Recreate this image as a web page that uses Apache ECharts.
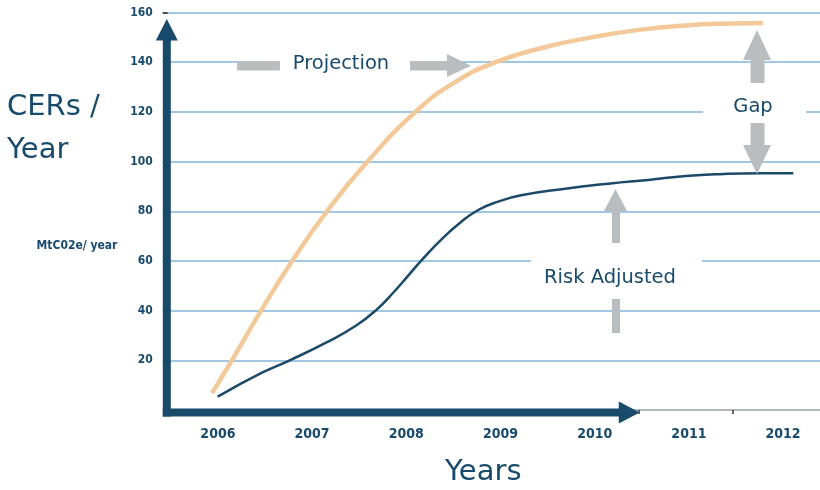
<!DOCTYPE html>
<html>
<head>
<meta charset="utf-8">
<script src="https://cdn.jsdelivr.net/npm/echarts@6/dist/echarts.min.js"></script>
<style>
  html, body { margin: 0; padding: 0; background: #fff; overflow: hidden; width: 820px; height: 490px; }
  /* the last year band runs a few pixels past the right edge of the page */
  #chart { width: 828px; height: 490px; }
</style>
</head>
<body>
<div id="chart"></div>
<script>
// Year categories along the bottom axis
const years = ['2006', '2007', '2008', '2009', '2010', '2011', '2012'];

// Projected CER volume (MtCO2e / year), sampled along the time axis
const projTime  = [2005.97, 2006.18, 2006.49, 2006.82, 2007.19, 2007.62, 2008.13, 2008.55, 2009.00, 2009.50, 2010.00, 2010.50, 2011.00, 2011.50, 2011.82];
const projValue = [6.8, 20.0, 40.0, 60.0, 80.0, 100.0, 120.0, 132.0, 140.3, 146.0, 150.0, 153.0, 154.8, 155.6, 155.8];

// Risk-adjusted CER volume
const riskTime  = [2006.03, 2006.50, 2006.80, 2007.19, 2007.50, 2007.72, 2007.90, 2008.05, 2008.20, 2008.40, 2008.60, 2008.80, 2009.00, 2009.25, 2009.70, 2010.20, 2010.60, 2011.00, 2011.40, 2011.80, 2012.14];
const riskValue = [5.4, 15.0, 20.1, 27.3, 34.0, 40.5, 47.5, 54.0, 60.5, 68.5, 75.3, 80.6, 83.8, 86.4, 89.0, 91.2, 92.6, 94.2, 95.0, 95.3, 95.3];

const navy = '#184a6c';
const lineNavy = '#1b4968';
const peach = '#f3c99a';
const gridBlue = '#82b5d8';
const grey = '#babdbf';
const narrow = '"Liberation Sans Narrow", "DejaVu Sans Condensed", "Arial Narrow", sans-serif';
const body = '"DejaVu Sans", Verdana, sans-serif';

const zip = (a, b) => a.map((t, i) => [t, b[i]]);

const chart = echarts.init(document.getElementById('chart'), null, { renderer: 'canvas' });

chart.setOption({
  animation: false,
  backgroundColor: '#fff',
  grid: { left: 167.8, right: 0.8, top: 12.5, bottom: 80, containLabel: false },
  xAxis: [
    {
      type: 'category',
      data: years,
      boundaryGap: true,
      axisLine: { show: true, lineStyle: { color: '#b3b6b8', width: 1.5 } },
      axisTick: { show: true, length: 4, lineStyle: { color: '#333', width: 1.5 } },
      axisLabel: {
        color: navy, fontFamily: narrow, fontWeight: 'bold', fontSize: 14, margin: 17,
        padding: [0, 0, 0, 6]
      },
      splitLine: { show: false }
    },
    {
      type: 'value',
      min: 2005.5,
      max: 2012.5,
      show: false
    }
  ],
  yAxis: {
    type: 'value',
    min: 0,
    max: 160,
    interval: 20,
    axisLine: { show: false },
    axisTick: { show: true, length: 5, lineStyle: { color: '#111', width: 1.5 } },
    axisLabel: {
      color: navy, fontFamily: narrow, fontWeight: 'bold', fontSize: 12, margin: 15,
      formatter: v => (v === 0 ? '' : String(v))
    },
    splitLine: { show: true, lineStyle: { color: gridBlue, width: 1.5 } }
  },
  series: [
    {
      name: 'Projection',
      type: 'line',
      xAxisIndex: 1,
      data: zip(projTime, projValue),
      smooth: true,
      showSymbol: false,
      symbol: 'none',
      lineStyle: { color: peach, width: 4.5, cap: 'butt' },
      z: 3
    },
    {
      name: 'Risk Adjusted',
      type: 'line',
      xAxisIndex: 1,
      data: zip(riskTime, riskValue),
      smooth: true,
      showSymbol: false,
      symbol: 'none',
      lineStyle: { color: lineNavy, width: 2.5 },
      z: 3
    }
  ]
});

// Decorations: axis arrows, call-out labels and their grey arrows
const toPx = (t, v) => chart.convertToPixel({ xAxisIndex: 1, yAxisIndex: 0 }, [t, v]);
const originPx = toPx(2005.5, 0);
const topPx = toPx(2005.5, 160);
const axX = originPx[0] - 1;          // y-axis bar centre
const axY = originPx[1] + 2.5;        // x-axis bar centre
const xTip = toPx(2010.51, 0)[0];
const yTop = topPx[1];

const box = (x, y, w, h) => ({ type: 'rect', z: 1, shape: { x, y, width: w, height: h }, style: { fill: '#fff' } });
const bar = (x, y, w, h, fill, z) => ({ type: 'rect', z, shape: { x, y, width: w, height: h }, style: { fill } });
const tri = (pts, fill, z) => ({ type: 'polygon', z, shape: { points: pts }, style: { fill } });
const label = (text, x, y, size) => ({
  type: 'text', z: 6, x, y,
  style: { text, fill: navy, font: `${size}px ${body}`, align: 'center', verticalAlign: 'middle' }
});

chart.setOption({
  graphic: [
    // white panels behind call-outs
    box(237, 50, 223, 28),
    box(703, 90, 103, 35),
    box(531, 250, 171, 45),

    // Projection call-out
    bar(237, 61, 43, 9.5, grey, 5),
    bar(410, 61, 39, 9.5, grey, 5),
    tri([[447, 54], [471, 65.7], [447, 77]], grey, 5),
    label('Projection', 341, 64, 19.5),

    // Gap call-out
    tri([[743, 60], [757, 30], [771, 60]], grey, 5),
    bar(750.5, 59, 14, 24, grey, 5),
    label('Gap', 753, 107, 19.5),
    bar(750.5, 123, 14, 23, grey, 5),
    tri([[743, 145], [757, 174], [771, 145]], grey, 5),

    // Risk Adjusted call-out
    tri([[604, 211], [615.5, 189], [627, 211]], grey, 5),
    bar(612, 210, 8, 33, grey, 5),
    label('Risk Adjusted', 610, 278, 19.5),
    bar(612, 299, 8, 34, grey, 5),

    // y-axis arrow
    bar(axX - 4, yTop + 27, 8, axY + 4 - (yTop + 27), navy, 7),
    tri([[axX - 11, yTop + 28], [axX, yTop + 6.5], [axX + 11, yTop + 28]], navy, 7),

    // x-axis arrow
    bar(axX - 4, axY - 4, xTip - 20 - (axX - 4), 8, navy, 7),
    tri([[xTip - 21, axY - 11], [xTip, axY], [xTip - 21, axY + 11]], navy, 7),

    // axis titles
    { type: 'text', z: 6, x: 7, y: 107, style: { text: 'CERs /', fill: navy, font: `29px ${body}`, verticalAlign: 'middle' } },
    { type: 'text', z: 6, x: 7, y: 150, style: { text: 'Year', fill: navy, font: `29px ${body}`, verticalAlign: 'middle' } },
    { type: 'text', z: 6, x: 445, y: 472, style: { text: 'Years', fill: navy, font: `29px ${body}`, verticalAlign: 'middle' } },
    { type: 'text', z: 6, x: 77, y: 246, style: { text: 'MtC02e/ year', fill: navy, font: `bold 12px ${narrow}`, align: 'center', verticalAlign: 'middle' } }
  ]
});
</script>
</body>
</html>
